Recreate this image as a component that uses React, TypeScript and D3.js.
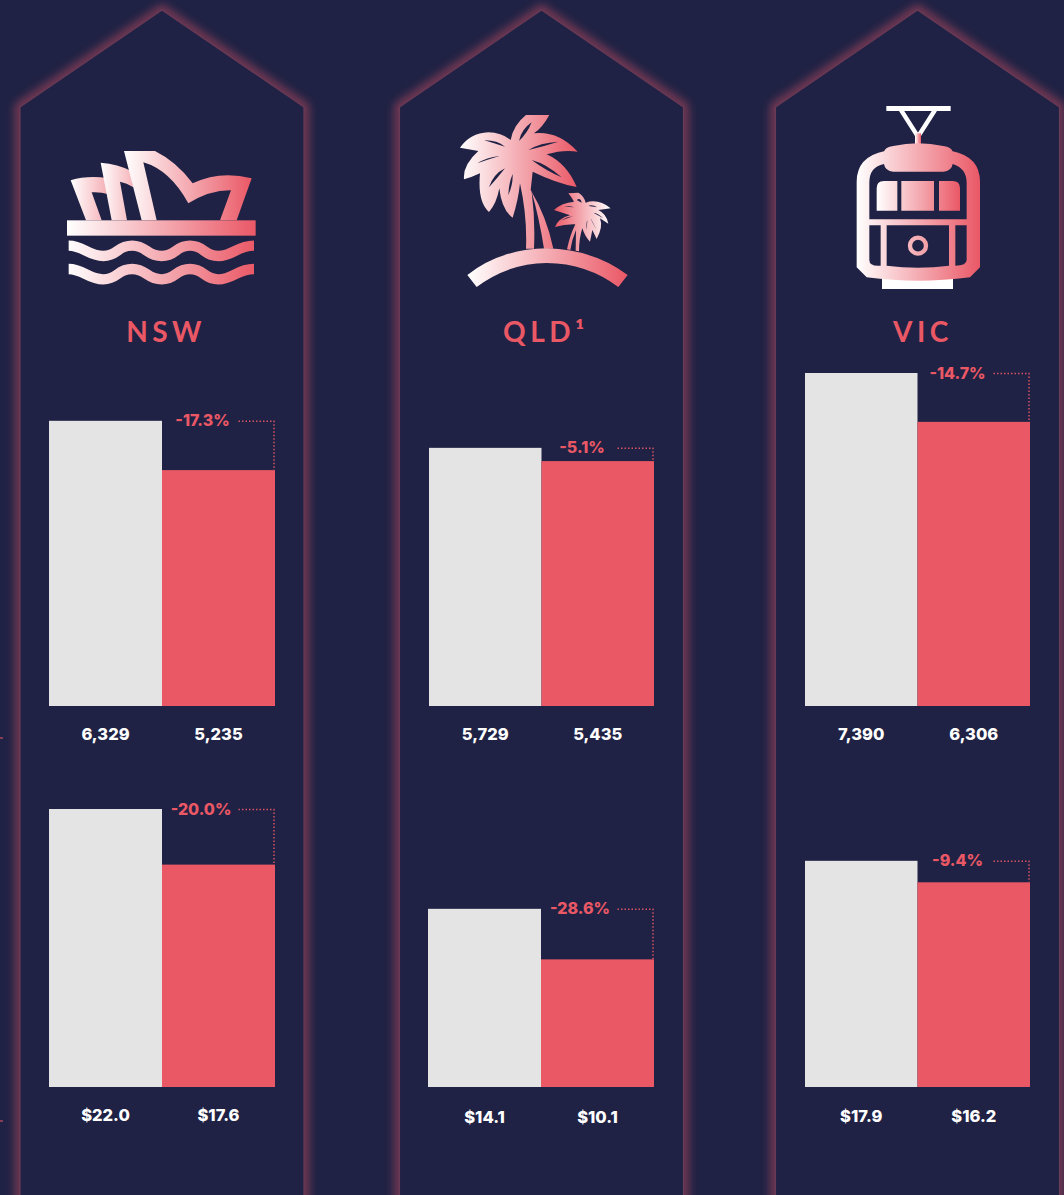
import React from "react";
import * as d3 from "d3";

const states = ["NSW", "QLD¹", "VIC"];
const volumePrior = [6329, 5729, 7390];
const volumeCurrent = [5235, 5435, 6306];
const valuePrior = [22.0, 14.1, 17.9];
const valueCurrent = [17.6, 10.1, 16.2];
const volumeChange = ["-17.3%", "-5.1%", "-14.7%"];
const valueChange = ["-20.0%", "-28.6%", "-9.4%"];

const BG = "#1f2244";
const GREY = "#e4e4e4";
const RED = "#ea5866";
const W = 1064;
const H = 1195;

const panelLeft = [20, 399.5, 775.5];
const panelW = 284;
const barLeft = [49, 429, 805];
const barLeftB = [49, 428, 805];
const barRight = [275, 654, 1030];
const labelXA = [202.5, 582, 957.5];
const labelXB = [201, 580, 957.5];
const labelYA = [734, 734, 734];
const labelYB = [1115, 1117, 1116];
const titleX = [166, 546, 923];

const yVolume = d3.scaleLinear().domain([0, 7390]).range([706, 373]);
const yValue = d3.scaleLinear().domain([0, 22]).range([1087, 809]);
const fmtVol = d3.format(",");
const fmtVal = (v: number) => "$" + v.toFixed(1);

const panelPath = (l: number) => {
  const p = d3.path();
  p.moveTo(l, H + 20);
  p.lineTo(l, 107);
  p.lineTo(l + panelW / 2, 10);
  p.lineTo(l + panelW, 107);
  p.lineTo(l + panelW, H + 20);
  p.closePath();
  return p.toString();
};

const Grad = ({ id, x1, x2, from = "#ffffff", to = RED }: any) => (
  <linearGradient id={id} gradientUnits="userSpaceOnUse" x1={x1} x2={x2} y1={0} y2={0}>
    <stop offset="0" stopColor={from} />
    <stop offset="1" stopColor={to} />
  </linearGradient>
);

const wave = "M206,737 C250,737 265,768 310,768 C355,768 350,737 397,737 C440,737 440,768 485,768 C530,768 525,737 570,737 C615,737 610,768 655,768 C700,768 710,737 762,737";

const Opera = () => (
  <g transform="scale(0.33333)">
    <path fill="url(#gShell1)" d="M212,541 Q260,526 322,534 L326,583 Q300,575 275,577 L305,661 L258,661 Z" />
    <path fill="url(#gShell2)" d="M302,488 Q355,493 392,512 L400,562 Q380,548 360,545 L381,661 L335,661 Z" />
    <path fill="url(#gShell3)" d="M372,453 L465,453 Q530,485 578,550 Q660,510 755,535 L710,661 L660,661 L693,571 Q630,570 565,610 Q510,510 430,487 L470,661 L425,661 Z" />
    <rect x={201} y={661} width={566} height={46} fill="url(#gOpera)" />
    {[0, 70].map((d) => (
      <path key={d} transform={`translate(0,${d})`} fill="none" stroke="url(#gOpera)" strokeWidth={31} d={wave} />
    ))}
  </g>
);

const Palm = () => (
  <g transform="scale(0.33333)">
    <path
      fill="url(#gPalm)"
      fillRule="evenodd"
      d="M408,75 L478,75 Q458,112 432,130 Q505,122 563,185 Q520,178 470,193 Q530,220 560,291 Q500,280 428,245 L422,300 Q470,380 490,476 L462,476 Q448,385 425,305 Q436,390 432,476 L408,476 Q412,380 390,280
         Q385,330 368,383 Q335,360 328,295 Q320,340 297,366 Q262,335 270,250 Q245,262 222,268 Q218,225 265,183 L210,173 Q240,130 295,127 Q335,128 362,150 Q370,105 408,75 Z
         M387,153 Q394,118 425,97 Q412,130 387,153 Z
         M283,151 Q320,150 345,170 Q312,160 283,151 Z
         M415,180 Q450,158 505,155 Q465,168 415,180 Z
         M262,220 Q290,202 328,198 Q295,208 262,220 Z
         M425,210 Q470,222 515,262 Q468,242 425,210 Z
         M297,292 Q310,252 345,235 Q324,262 297,292 Z
         M355,315 Q356,280 368,252 Q369,285 355,315 Z"
    />
    <path
      fill="url(#gPalmS)"
      fillRule="evenodd"
      d="M535,310 L565,308 Q582,318 587,338 Q625,325 662,355 L625,360 Q650,372 655,401 L630,385 Q640,410 620,447 L607,420 L600,455 Q585,440 577,415 Q567,445 567,484 L557,482 L558,420 Q545,450 541,480 L531,478 Q540,435 556,403 Q525,402 495,411 Q505,385 540,376 L492,360 Q515,338 552,335 Q545,322 535,310 Z
         M560,330 Q572,322 575,338 Z
         M622,352 Q605,342 595,348 Z
         M640,385 Q625,370 610,368 Z
         M522,350 Q540,346 552,352 Z
         M512,392 Q530,380 550,378 Z
         M620,420 Q605,395 602,385 Z
         M590,420 Q588,400 592,390 Z"
    />
    <path fill="url(#gIsle)" d="M232,555 Q330,477 470,475 Q610,478 713,555 L685,591 Q590,520 470,519 Q355,520 260,591 Z" />
  </g>
);

const Tram = () => (
  <g transform="scale(0.33333)">
    <rect x={349} y={48} width={193} height={15} fill="#fff" />
    <path d="M393,60 L444,140 L495,60" fill="none" stroke="#fff" strokeWidth={13} />
    <rect x={336} y={560} width={213} height={37} fill="#fff" />
    <rect x={435} y={130} width={18} height={42} fill="url(#gStem)" />
    <path
      fill="url(#gTram)"
      fillRule="evenodd"
      d="M345,183 Q260,200 260,275 L260,532 L290,562 Q370,572 444,572 Q520,572 600,562 L630,532 L630,275 Q630,200 545,183 Z
         M342,222 Q298,230 298,278 L298,388 L590,388 L590,278 Q590,235 548,222 Z
         M298,406 L332,406 L332,527 Q298,530 298,510 Z
         M350,406 L537,406 L537,527 Q444,540 350,527 Z
         M556,406 L590,406 L590,510 Q590,527 556,527 Z"
    />
    <path
      fill="url(#gTram)"
      fillRule="evenodd"
      d="M342,185 Q345,172 370,168 Q444,152 520,168 Q545,172 548,185 L548,222 Q545,243 520,245 L370,245 Q345,243 342,222 Z
         M372,197 L372,215 L517,215 L517,197 Q444,184 372,197 Z"
    />
    <path
      fill="url(#gTramW)"
      d="M320,295 Q320,273 342,273 L382,273 L382,362 L320,362 Z M394,273 L492,273 L492,362 L394,362 Z M507,273 L548,273 Q570,273 570,295 L570,362 L507,362 Z"
    />
    <circle cx={444} cy={467} r={24} fill="none" stroke="url(#gTram)" strokeWidth={13} />
  </g>
);

const iconOffsets: [number, number][] = [[0, 0], [390, 90], [770, 90]];
const icons = [Opera, Palm, Tram];

const Chart = ({ i, x0, y, a, b, change, labelX, labelY, fmt }: any) => {
  const x = d3.scaleBand<number>().domain([0, 1]).range([x0, barRight[i]]);
  const bw = x.bandwidth();
  const top = [y(a), y(b)];
  const right = barRight[i] - 1;
  return (
    <g>
      <rect x={x(0)} y={top[0]} width={bw} height={y(0) - top[0]} fill={GREY} />
      <rect x={x(1)} y={top[1]} width={bw} height={y(0) - top[1]} fill={RED} />
      <text x={labelX} y={top[0] + 5.5} textAnchor="middle" fontSize={16} fontWeight={800} fill={RED} fontFamily="Inter">
        {change}
      </text>
      <path
        d={`M${right - 35.5},${top[0] + 0.5} H${right} V${top[1]}`}
        fill="none"
        stroke={RED}
        strokeOpacity={0.9}
        strokeWidth={1.5}
        strokeDasharray="1.5 2"
      />
      {[a, b].map((v: number, k: number) => (
        <text key={k} x={x(k)! + bw / 2} y={labelY + 5.5} textAnchor="middle" fontSize={16.5} fontWeight={800} fill="#fff" fontFamily="Inter">
          {fmt(v)}
        </text>
      ))}
    </g>
  );
};

export default function App() {
  return (
    <svg width={W} height={H} viewBox={`0 0 ${W} ${H}`} style={{ position: "fixed", left: 0, top: 0, display: "block", background: BG }}>
      <defs>
        <filter id="glow" x="-10%" y="-10%" width="120%" height="120%">
          <feGaussianBlur stdDeviation="5" />
        </filter>
        <Grad id="gOpera" x1={201} x2={767} />
        <Grad id="gShell1" x1={212} x2={440} />
        <Grad id="gShell2" x1={302} x2={520} />
        <Grad id="gShell3" x1={372} x2={755} />
        <Grad id="gPalm" x1={210} x2={563} />
        <Grad id="gPalmS" x1={662} x2={492} />
        <Grad id="gIsle" x1={232} x2={713} />
        <Grad id="gStem" x1={435} x2={453} />
        <Grad id="gTram" x1={260} x2={630} />
        <Grad id="gTramW" x1={320} x2={570} />
      </defs>
      {panelLeft.map((l, i) => (
        <path key={"g" + i} d={panelPath(l)} fill="none" stroke={RED} strokeOpacity={0.5} strokeWidth={9} filter="url(#glow)" />
      ))}
      {panelLeft.map((l, i) => (
        <path key={"p" + i} d={panelPath(l)} fill={BG} stroke="#6a3a56" strokeWidth={1.2} />
      ))}
      {states.map((s, i) => {
        const Icon = icons[i];
        const [ox, oy] = iconOffsets[i];
        return (
          <g key={s}>
            <g transform={`translate(${ox},${oy})`}>
              <Icon />
            </g>
            <text x={titleX[i]} y={342} textAnchor="middle" fontSize={28} fontWeight={700} letterSpacing={4.5} fill={RED} fontFamily="Lato">
              {s}
            </text>
            <Chart i={i} x0={barLeft[i]} y={yVolume} a={volumePrior[i]} b={volumeCurrent[i]} change={volumeChange[i]} labelX={labelXA[i]} labelY={labelYA[i]} fmt={fmtVol} />
            <Chart i={i} x0={barLeftB[i]} y={yValue} a={valuePrior[i]} b={valueCurrent[i]} change={valueChange[i]} labelX={labelXB[i]} labelY={labelYB[i]} fmt={fmtVal} />
          </g>
        );
      })}
      <rect x={0} y={737.5} width={3} height={1} fill={RED} />
      <rect x={0} y={1120.5} width={3} height={1} fill={RED} />
    </svg>
  );
}
